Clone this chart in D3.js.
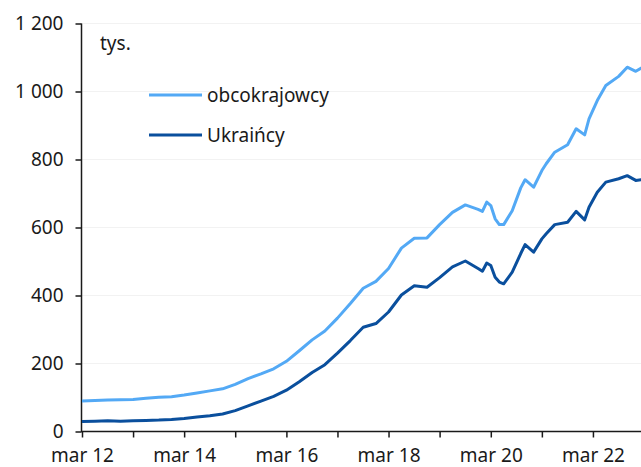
<!DOCTYPE html>
<html>
<head>
<meta charset="utf-8">
<script src="https://cdn.jsdelivr.net/npm/d3@7"></script>
<style>
  body { margin: 0; background: #fff; }
  svg text { font-family: "Noto Sans", sans-serif; fill: #1a1a1a; }
</style>
</head>
<body>
<div class="chart"></div>
<script>
// months (YYYY-MM) and values in thousands
var months = ["2012-03","2012-06","2012-09","2012-12","2013-03","2013-06","2013-09","2013-12",
  "2014-03","2014-06","2014-09","2014-12","2015-03","2015-06","2015-09","2015-12",
  "2016-03","2016-06","2016-09","2016-12","2017-03","2017-06","2017-09","2017-12",
  "2018-03","2018-06","2018-09","2018-12","2019-03","2019-06","2019-09","2019-12",
  "2020-01","2020-02","2020-03","2020-04","2020-05","2020-06","2020-08","2020-10","2020-11",
  "2021-01","2021-03","2021-04","2021-06","2021-09","2021-11","2022-01","2022-02","2022-04",
  "2022-06","2022-09","2022-11","2023-01","2023-03"];
var obcokrajowcy = [88,90,91,92,93,96,99,101,106,112,118,124,137,154,168,183,
  205,236,268,294,332,375,420,440,478,538,567,568,607,643,665,652,
  646,673,663,624,607,607,648,715,739,717,766,786,820,842,889,871,918,972,
  1016,1043,1070,1058,1072];
var ukraincy = [28,29,30,29,30,31,32,34,37,41,45,50,60,74,88,102,
  120,145,172,195,229,266,305,316,350,400,427,423,451,483,500,478,
  470,494,487,452,438,433,467,522,548,526,565,580,607,614,646,621,658,702,
  732,742,751,737,740];
var yTicks = [0,200,400,600,800,1000,1200];
var tickYears = [2012,2013,2014,2015,2016,2017,2018,2019,2020,2021,2022,2023];

var width = 641, height = 467;
var parse = d3.timeParse("%Y-%m");
var lightBlue = "#53a9f5", darkBlue = "#0a4f9d";

var svg = d3.select(".chart").append("svg")
    .attr("width", width)
    .attr("height", height);

var x = d3.scaleTime()
    .domain([new Date(2012, 2, 1), new Date(2023, 2, 1)])
    .range([82, 644]);
var y = d3.scaleLinear()
    .domain([0, 1200])
    .range([431, 23]);

var fmt = function(d) { return d3.format(",")(d).replace(",", " "); };

// faint gridlines
svg.append("g").selectAll("line")
    .data(yTicks.slice(1))
    .enter().append("line")
    .attr("x1", 82).attr("x2", width)
    .attr("y1", function(d) { return y(d) + 0.5; })
    .attr("y2", function(d) { return y(d) + 0.5; })
    .attr("stroke", "#f2f2f2");

// y axis
var yAxis = svg.append("g")
    .attr("transform", "translate(81.5,0.5)")
    .call(d3.axisLeft(y).tickValues(yTicks).tickSize(6).tickPadding(12).tickFormat(fmt));
yAxis.selectAll("path, line").attr("stroke", "#1a1a1a").attr("stroke-width", 1.5);
yAxis.select(".domain").attr("d", "M0," + y(1200) + "V" + y(0));
yAxis.selectAll("text").style("font-size", "19px").attr("dy", "0.3em");

// x axis
var xAxis = svg.append("g")
    .attr("transform", "translate(0," + (y(0) + 0.5) + ")")
    .call(d3.axisBottom(x)
        .tickValues(tickYears.map(function(yr) { return new Date(yr, 2, 1); }))
        .tickSize(6).tickPadding(11)
        .tickFormat(function(d) {
          var yr = d.getFullYear();
          return yr % 2 === 0 ? "mar " + String(yr).slice(2) : "";
        }));
xAxis.selectAll("path, line").attr("stroke", "#1a1a1a").attr("stroke-width", 1.5);
xAxis.select(".domain").attr("d", "M81," + 0 + "H" + width);
xAxis.selectAll("text").style("font-size", "19px");

// lines
var seriesList = [
  { name: "obcokrajowcy", values: obcokrajowcy, color: lightBlue },
  { name: "Ukraińcy", values: ukraincy, color: darkBlue }
];
var line = d3.line()
    .x(function(d) { return x(d.date); })
    .y(function(d) { return y(d.value); });

seriesList.forEach(function(s) {
  var pts = months.map(function(m, i) { return { date: parse(m), value: s.values[i] }; });
  svg.append("path")
      .datum(pts)
      .attr("fill", "none")
      .attr("stroke", s.color)
      .attr("stroke-width", 3)
      .attr("stroke-linejoin", "round")
      .attr("d", line);
});

// unit label
svg.append("text")
    .attr("x", 100).attr("y", 50)
    .style("font-size", "19px")
    .text("tys.");

// legend
var legend = svg.append("g")
    .selectAll("g")
    .data(seriesList)
    .enter().append("g")
    .attr("transform", function(d, i) { return "translate(149," + (95 + i * 40) + ")"; });
legend.append("line")
    .attr("x1", 0).attr("x2", 53)
    .attr("stroke", function(d) { return d.color; })
    .attr("stroke-width", 3);
legend.append("text")
    .attr("x", 58).attr("dy", "0.35em")
    .style("font-size", "19px")
    .text(function(d) { return d.name; });
</script>
</body>
</html>
